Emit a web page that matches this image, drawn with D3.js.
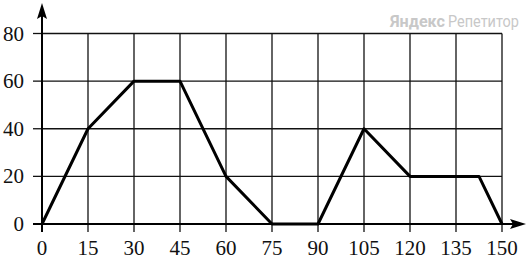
<!DOCTYPE html>
<html>
<head>
<meta charset="utf-8">
<script src="https://cdn.jsdelivr.net/npm/d3@7"></script>
<style>
  body { margin: 0; background: #fff; }
  svg { display: block; }
</style>
</head>
<body>
<div id="chart"></div>
<script>
var xTicks = [0, 15, 30, 45, 60, 75, 90, 105, 120, 135, 150];
var yTicks = [0, 20, 40, 60, 80];
var times = [0, 15, 30, 45, 60, 75, 90, 105, 120, 135, 142.5, 150];
var values = [0, 40, 60, 60, 20, 0, 0, 40, 20, 20, 20, 0];

var width = 532, height = 259;
var serif = "'Liberation Serif', 'Times New Roman', Times, 'DejaVu Serif', serif";

var svg = d3.select("#chart")
    .append("svg")
    .attr("width", width)
    .attr("height", height);

var x = d3.scaleLinear().domain([0, 150]).range([42, 502]);
var y = d3.scaleLinear().domain([0, 80]).range([224, 33.5]);

var grid = svg.append("g").attr("stroke", "#111").attr("stroke-width", 1.3);

grid.selectAll(".vgrid")
    .data(xTicks.slice(1))
    .enter().append("line")
    .attr("class", "vgrid")
    .attr("x1", function(d) { return x(d); })
    .attr("x2", function(d) { return x(d); })
    .attr("y1", y(0))
    .attr("y2", y(80));

grid.selectAll(".hgrid")
    .data(yTicks.slice(1))
    .enter().append("line")
    .attr("class", "hgrid")
    .attr("x1", x(0))
    .attr("x2", x(150))
    .attr("y1", function(d) { return y(d); })
    .attr("y2", function(d) { return y(d); });

// ticks outside the grid
grid.selectAll(".xtick")
    .data(xTicks)
    .enter().append("line")
    .attr("class", "xtick")
    .attr("x1", function(d) { return x(d); })
    .attr("x2", function(d) { return x(d); })
    .attr("y1", y(0))
    .attr("y2", y(0) + 8);

grid.selectAll(".ytick")
    .data(yTicks)
    .enter().append("line")
    .attr("class", "ytick")
    .attr("x1", x(0) - 9)
    .attr("x2", x(0))
    .attr("y1", function(d) { return y(d); })
    .attr("y2", function(d) { return y(d); });

// axes with arrows
svg.append("line")
    .attr("x1", x(0) - 9).attr("x2", 516)
    .attr("y1", y(0)).attr("y2", y(0))
    .attr("stroke", "#000").attr("stroke-width", 2);
svg.append("path")
    .attr("d", "M526," + y(0) + "L510," + (y(0) - 5) + "L513," + y(0) + "L510," + (y(0) + 5) + "Z")
    .attr("fill", "#000");

svg.append("line")
    .attr("x1", x(0)).attr("x2", x(0))
    .attr("y1", y(0) + 8).attr("y2", 14)
    .attr("stroke", "#000").attr("stroke-width", 2);
svg.append("path")
    .attr("d", "M" + x(0) + ",3L" + (x(0) - 5) + ",19L" + x(0) + ",16L" + (x(0) + 5) + ",19Z")
    .attr("fill", "#000");

// labels
svg.selectAll(".xlab")
    .data(xTicks)
    .enter().append("text")
    .attr("class", "xlab")
    .attr("x", function(d) { return x(d); })
    .attr("y", 255)
    .attr("text-anchor", "middle")
    .style("font-family", serif)
    .style("font-size", "21px")
    .attr("fill", "#111")
    .text(function(d) { return d; });

svg.selectAll(".ylab")
    .data(yTicks)
    .enter().append("text")
    .attr("class", "ylab")
    .attr("x", 24)
    .attr("y", function(d) { return y(d) + 7; })
    .attr("text-anchor", "end")
    .style("font-family", serif)
    .style("font-size", "21px")
    .attr("fill", "#111")
    .text(function(d) { return d; });

// data line
var pts = times.map(function(t, i) { return [t, values[i]]; });
var line = d3.line()
    .x(function(d) { return x(d[0]); })
    .y(function(d) { return y(d[1]); });

svg.append("path")
    .datum(pts)
    .attr("d", line)
    .attr("fill", "none")
    .attr("stroke", "#000")
    .attr("stroke-width", 3)
    .attr("stroke-linejoin", "round");

// watermark
svg.append("text")
    .attr("x", 390)
    .attr("y", 27)
    .style("font-family", "'Liberation Sans Narrow', Roboto, sans-serif")
    .style("font-size", "17px")
    .style("font-weight", "bold")
    .attr("fill", "#c8c8c8")
    .attr("textLength", 55)
    .attr("lengthAdjust", "spacingAndGlyphs")
    .text("Яндекс");
svg.append("text")
    .attr("x", 448)
    .attr("y", 27)
    .style("font-family", "'Liberation Sans Narrow', Roboto, sans-serif")
    .style("font-size", "17px")
    .attr("fill", "#c8c8c8")
    .attr("textLength", 71)
    .attr("lengthAdjust", "spacingAndGlyphs")
    .text("Репетитор");
</script>
</body>
</html>
